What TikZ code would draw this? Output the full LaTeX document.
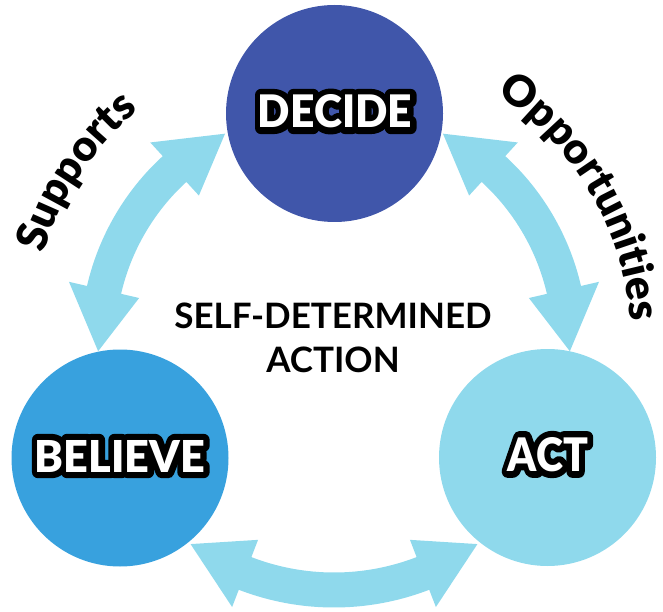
\documentclass[tikz,border=0pt]{standalone}
\usepackage{fontspec}
\setmainfont{Lato}
\newfontfamily\heavyfont{Lato Black}
\newfontfamily\strokefont{Lato Black}[FakeBold=28]
\usetikzlibrary{decorations.text,calc}
\definecolor{decidecol}{RGB}{64,86,170}
\definecolor{believecol}{RGB}{56,161,222}
\definecolor{actcol}{RGB}{143,217,236}
\definecolor{arrowcol}{RGB}{143,217,236}
\newcommand{\cyclearrow}[4]{%
  \pgfmathsetmacro\ro{#1+17.5}%
  \pgfmathsetmacro\ri{#1-17.5}%
  \pgfmathsetmacro\ho{#1+36}%
  \pgfmathsetmacro\hi{#1-36}%
  \pgfmathsetmacro\ba{#2+#4}%
  \pgfmathsetmacro\bb{#3-#4}%
  \fill[arrowcol] (\ba:\ro) arc[start angle=\ba, end angle=\bb, radius=\ro]
    -- (\bb:\ho) -- (#3:#1) -- (\bb:\hi) -- (\bb:\ri)
    arc[start angle=\bb, end angle=\ba, radius=\ri]
    -- (\ba:\hi) -- (#2:#1) -- (\ba:\ho) -- cycle;
}
\newcommand{\olabel}[6]{%
  \node[inner sep=0pt, text=black, line join=round, miter limit=1] (#1-o) at (#2,#3) {\resizebox{#4pt}{#5pt}{\strokefont #6}};
  \node[inner sep=0pt, text=white] (#1) at (#2,#3) {\resizebox{#4pt}{#5pt}{\heavyfont #6}};
}
\tikzset{
  bubble/.style={circle, inner sep=0pt, minimum size=217pt},
  arctext/.style={decorate, decoration={text along path, text align=center, text={|\fontsize{43}{45}\selectfont\heavyfont|#1}}}
}
\begin{document}
\begin{tikzpicture}[x=1pt,y=1pt]
\useasboundingbox (0,0) rectangle (663,611);
\begin{scope}[shift={(334,268)}]
  \cyclearrow{236}{117.5}{182}{15}
  \cyclearrow{236}{-2}{62.5}{15}
  \cyclearrow{247}{-125.5}{-54.5}{14.4}
  \path[arctext=Supports] (186.5:304) arc[start angle=186.5, end angle=106.5, radius=304];
  \path[arctext=Opportunities] (70.5:297) arc[start angle=70.5, end angle=-9.5, radius=297];
\end{scope}
\node[bubble, fill=decidecol] (decide) at (334.5,497.5) {};
\node[bubble, fill=believecol] (believe) at (120,153) {};
\node[bubble, fill=actcol] (act) at (547.5,153.5) {};
\olabel{decidelbl}{335}{499.5}{154}{33}{DECIDE}
\olabel{believelbl}{120}{155}{170}{32}{BELIEVE}
\olabel{actlbl}{548}{156.5}{80}{34}{ACT}
\node[anchor=base, inner sep=0pt, font=\fontsize{35}{44}\selectfont\bfseries] (sda1) at (333,283) {SELF-DETERMINED};
\node[anchor=base, inner sep=0pt, font=\fontsize{35}{44}\selectfont\bfseries] (sda2) at (333,239) {ACTION};
\end{tikzpicture}
\end{document}
